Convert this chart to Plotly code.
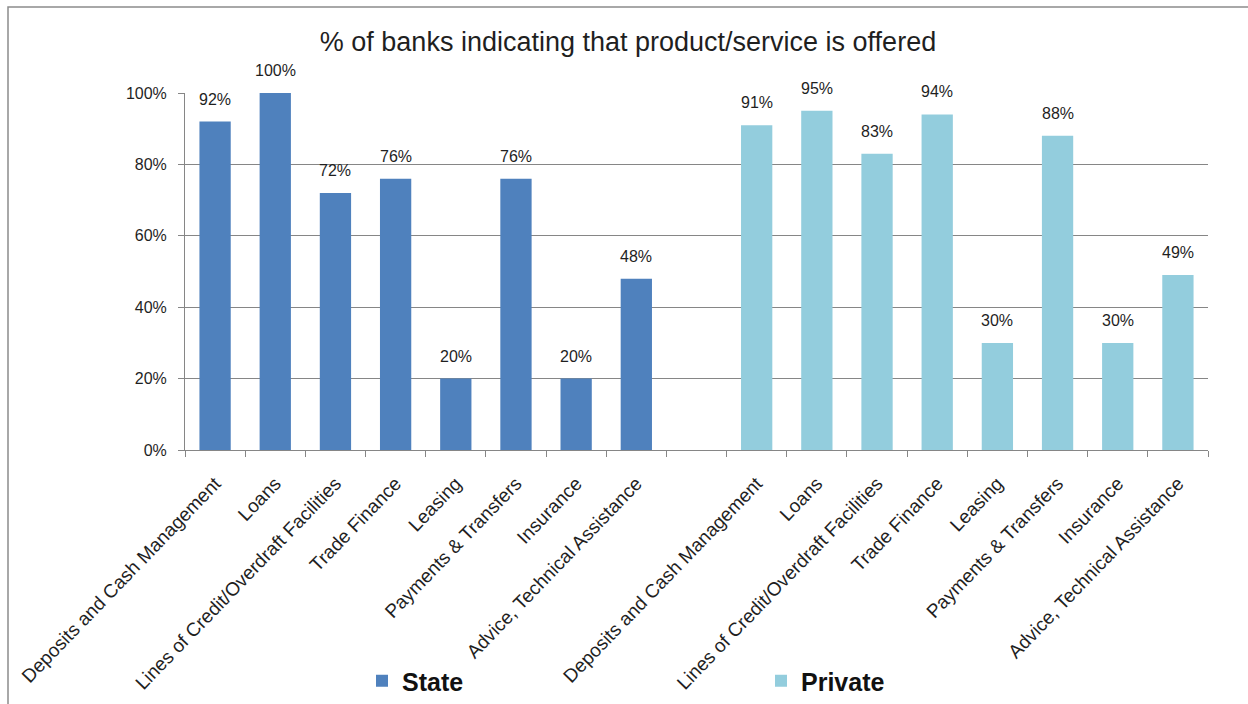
import plotly.graph_objects as go

# Products / services surveyed
products = [
    "Deposits and Cash Management",
    "Loans",
    "Lines of Credit/Overdraft Facilities",
    "Trade Finance",
    "Leasing",
    "Payments & Transfers",
    "Insurance",
    "Advice, Technical Assistance",
]

# % of banks offering each product
state_pct = [92, 100, 72, 76, 20, 76, 20, 48]
private_pct = [91, 95, 83, 94, 30, 88, 30, 49]

y_ticks = [0, 20, 40, 60, 80, 100]
y_tick_labels = ["0%", "20%", "40%", "60%", "80%", "100%"]

STATE_COLOR = "#4F81BD"
PRIVATE_COLOR = "#93CDDD"
AXIS_GRAY = "#868686"
TEXT_COLOR = "#1f1f1f"
FONT = "Arial, Liberation Sans, sans-serif"

W, H = 1248, 704
ML, MR, MT, MB = 185, 40, 93, 254
plot_w = W - ML - MR
plot_h = H - MT - MB


def px_to_paper_x(px):
    return (px - ML) / plot_w


def px_to_paper_y(py):
    return (H - MB - py) / plot_h


# State group in slots 0..7, empty slot 8, Private group in slots 9..16
n = len(products)
state_x = list(range(n))
private_x = [n + 1 + i for i in range(n)]

fig = go.Figure()
fig.add_trace(go.Bar(
    x=state_x, y=state_pct, name="State", width=0.52,
    marker=dict(color=STATE_COLOR, line=dict(width=0)),
))
fig.add_trace(go.Bar(
    x=private_x, y=private_pct, name="Private", width=0.52,
    marker=dict(color=PRIVATE_COLOR, line=dict(width=0)),
))

# value labels above each bar
for xs, vals in ((state_x, state_pct), (private_x, private_pct)):
    for x, v in zip(xs, vals):
        fig.add_annotation(
            x=x, y=v, text=f"{v}%", showarrow=False,
            yanchor="bottom", yshift=12,
            font=dict(family=FONT, size=16, color=TEXT_COLOR),
        )

# outer chart frame
fig.add_shape(
    type="rect", xref="paper", yref="paper",
    x0=px_to_paper_x(8), x1=px_to_paper_x(W + 20),
    y0=px_to_paper_y(H + 20), y1=px_to_paper_y(7),
    line=dict(color="#8c8c8c", width=1.5), fillcolor="rgba(0,0,0,0)",
    layer="below",
)

total_slots = 2 * n + 1
fig.update_layout(
    width=W, height=H,
    margin=dict(l=ML, r=MR, t=MT, b=MB, pad=0, autoexpand=False),
    paper_bgcolor="white", plot_bgcolor="white",
    barmode="overlay",
    title=dict(
        text="% of banks indicating that product/service is offered",
        x=628 / W, xref="container", xanchor="center",
        y=1 - 42 / H, yref="container", yanchor="middle",
        font=dict(family=FONT, size=27, color=TEXT_COLOR),
    ),
    font=dict(family=FONT, color=TEXT_COLOR),
    showlegend=True,
    legend=dict(
        orientation="h",
        x=362 / W, xref="container", xanchor="left",
        y=1 - 681 / H, yref="container", yanchor="middle",
        entrywidth=354, entrywidthmode="pixels",
        font=dict(family=FONT, size=25, color="#111111", weight="bold"),
        bgcolor="rgba(0,0,0,0)",
        itemclick=False,
    ),
    xaxis=dict(
        range=[-0.5, total_slots - 0.5],
        tickmode="array",
        tickvals=state_x + private_x,
        ticktext=products + products,
        tickangle=-46,
        ticks="",
        ticklabelstandoff=14,
        tickfont=dict(family=FONT, size=19, color=TEXT_COLOR),
        showgrid=False, zeroline=False,
        showline=True, linecolor=AXIS_GRAY, linewidth=1,
        minor=dict(
            tickmode="array",
            tickvals=[i - 0.5 for i in range(total_slots + 1)],
            ticks="outside", ticklen=6, tickcolor=AXIS_GRAY, tickwidth=1,
            showgrid=False,
        ),
        automargin=False,
        fixedrange=True,
    ),
    yaxis=dict(
        range=[0, 100],
        tickmode="array",
        tickvals=y_ticks,
        ticktext=y_tick_labels,
        ticks="outside", ticklen=6, tickcolor=AXIS_GRAY, tickwidth=1,
        ticklabelstandoff=8,
        tickfont=dict(family=FONT, size=16, color=TEXT_COLOR),
        showgrid=True, gridcolor=AXIS_GRAY, gridwidth=1,
        zeroline=False,
        showline=True, linecolor=AXIS_GRAY, linewidth=1,
        automargin=False,
        fixedrange=True,
    ),
)

fig.write_html("out.html")
